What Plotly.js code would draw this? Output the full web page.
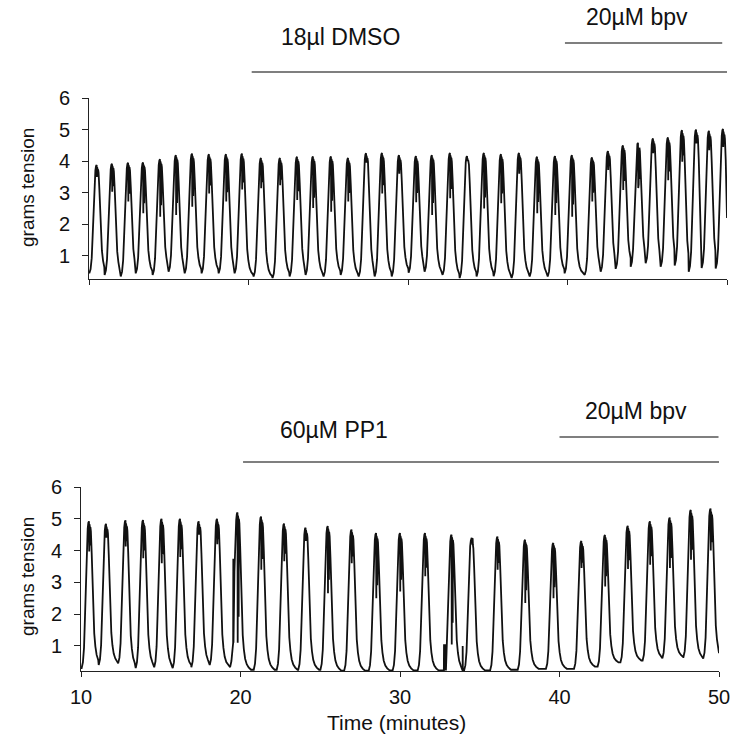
<!DOCTYPE html>
<html><head><meta charset="utf-8">
<script src="https://cdn.plot.ly/plotly-3.0.1.min.js"></script>
<style>html,body{margin:0;padding:0;background:#fff}#chart{width:741px;height:744px}</style>
</head><body><div id="chart"></div>
<script>
// ---------- top panel (18µl DMSO, then 20µM bpv) ----------
const topPeakTime = [10.48, 11.44, 12.45, 13.39, 14.45, 15.45, 16.46, 17.52, 18.59, 19.59,
  20.78, 21.97, 23.04, 24.04, 25.17, 26.24, 27.37, 28.37, 29.44, 30.50,
  31.50, 32.63, 33.70, 34.76, 35.83, 36.96, 38.09, 39.22, 40.28, 41.54,
  42.54, 43.48, 44.42, 45.36, 46.30, 47.18, 48.06, 48.87, 49.75];
const topPeakValue = [3.88, 3.92, 3.95, 3.96, 4.06, 4.19, 4.24, 4.22, 4.22, 4.24,
  4.10, 4.10, 4.14, 4.15, 4.15, 4.10, 4.25, 4.26, 4.19, 4.16,
  4.19, 4.26, 4.16, 4.26, 4.22, 4.26, 4.14, 4.16, 4.19, 4.12,
  4.32, 4.50, 4.58, 4.72, 4.75, 4.98, 5.00, 4.96, 5.02];
const topDipValue = [3.50, 3.03, 2.72, 2.35, 2.24, 2.30, 2.56, 2.98, 2.72, 3.10,
  3.14, 3.24, 2.77, 2.52, 2.40, 2.72, 3.95, 2.98, 3.60, 2.70,
  2.30, 2.83, 4.00, 2.50, 2.67, 3.60, 2.35, 2.30, 2.24, 2.72,
  3.72, 3.09, 3.15, 4.25, 3.40, 3.98, 4.56, 4.35, 4.45];
const topTroughValue = [0.45, 0.40, 0.35, 0.45, 0.40, 0.50, 0.45, 0.45, 0.45, 0.45,
  0.35, 0.30, 0.35, 0.40, 0.35, 0.40, 0.35, 0.35, 0.35, 0.47,
  0.50, 0.40, 0.30, 0.35, 0.36, 0.30, 0.35, 0.35, 0.45, 0.40,
  0.50, 0.59, 0.66, 0.77, 0.66, 0.70, 0.50, 0.62, 0.60, 0.60];
const topStart = [10.0, 0.50];
const topEnd = [50.0, 2.20];

// ---------- bottom panel (60µM PP1, then 20µM bpv) ----------
const botPeakTime = [10.50, 11.57, 12.79, 13.89, 15.05, 16.21, 17.38, 18.53, 19.81, 21.29,
  22.73, 24.08, 25.47, 26.96, 28.50, 30.00, 31.57, 33.23, 34.48, 36.11,
  37.84, 39.61, 41.37, 42.85, 44.28, 45.67, 46.91, 48.23, 49.47];
const botPeakValue = [4.92, 4.84, 4.95, 4.96, 5.00, 5.00, 4.92, 5.00, 5.20, 5.07,
  4.85, 4.72, 4.77, 4.66, 4.55, 4.55, 4.55, 4.50, 4.35, 4.44,
  4.34, 4.24, 4.30, 4.49, 4.78, 4.92, 5.04, 5.28, 5.32];
const botDipValue = [3.97, 4.40, 4.13, 3.76, 3.60, 3.80, 4.50, 4.20, 1.10, 3.40,
  3.66, 4.30, 2.66, 3.60, 2.50, 2.71, 3.19, 1.04, 4.40, 3.40,
  2.35, 2.50, 3.45, 2.87, 3.42, 3.55, 3.45, 3.71, 4.00];
const botTroughValue = [0.30, 0.40, 0.45, 0.30, 0.33, 0.30, 0.33, 0.40, 0.33, 0.25,
  0.25, 0.25, 0.25, 0.22, 0.22, 0.23, 0.23, 0.23, 0.23, 0.23,
  0.25, 0.28, 0.28, 0.35, 0.48, 0.54, 0.61, 0.65, 0.60, 0.60];
const botStart = [10.0, 0.30];
const botEnd = [50.0, 0.77];
// isolated brief spikes: time, height, base
const botSpikeTime = [19.55, 32.76, 32.87, 33.93];
const botSpikeValue = [3.74, 1.05, 1.05, 1.00];
const botSpikeBase = [1.10, 0.23, 0.23, 0.23];

// treatments: label, start, end (minutes)
const topTreatLabel = ["18\u00b5l DMSO", "20\u00b5M bpv"];
const topTreatStart = [20.2, 39.84];
const topTreatEnd = [50.05, 49.7];
const botTreatLabel = ["60\u00b5M PP1", "20\u00b5M bpv"];
const botTreatStart = [20.16, 40.0];
const botTreatEnd = [50.1, 49.97];

const tickVals = [10, 20, 30, 40, 50];
const tickText = ["10", "20", "30", "40", "50"];
const yTickVals = [1, 2, 3, 4, 5, 6];

// contraction waveform shape (time offset from peak, fraction of amplitude)
const riseShape = [[-0.46,0],[-0.38,0.04],[-0.31,0.14],[-0.25,0.35],[-0.19,0.62],[-0.13,0.84],[-0.08,0.95],[-0.04,0.99]];
const fallShape = [[0.12,0.93],[0.17,0.78],[0.22,0.55],[0.27,0.36],[0.33,0.22],[0.40,0.13],[0.48,0.07],[0.58,0.035],[0.70,0.015],[0.85,0.0]];

function buildTrace(peakT, peakV, dipV, troughV, start, end, spT, spV, spB) {
  const pts = [[start[0], start[1]]];
  for (let i = 0; i < peakT.length; i++) {
    const t0 = peakT[i], p = peakV[i], d = dipV[i], b = troughV[i], bn = troughV[i + 1];
    const last = pts[pts.length - 1][0];
    const nextRise = (i + 1 < peakT.length) ? peakT[i + 1] + riseShape[0][0] : end[0];
    riseShape.forEach(([dt, f]) => { const t = t0 + dt; if (t > last) pts.push([t, b + f * (p - b)]); });
    pts.push([t0, p]);
    // rapid oscillation on the plateau (dense dark band)
    pts.push([t0 + 0.015, d]);
    pts.push([t0 + 0.03, p - 0.02 * (p - bn)]);
    pts.push([t0 + 0.045, d + 0.08 * (p - d)]);
    pts.push([t0 + 0.06, p - 0.04 * (p - bn)]);
    pts.push([t0 + 0.075, d + 0.2 * (p - d)]);
    pts.push([t0 + 0.09, bn + 0.96 * (p - bn)]);
    fallShape.forEach(([dt, f]) => { const t = t0 + dt; if (t < nextRise && t < end[0]) pts.push([t, bn + f * (p - bn)]); });
  }
  pts.push([end[0], end[1]]);
  if (spT) {
    spT.forEach((t, k) => {
      pts.push([t - 0.01, spB[k]], [t, spV[k]], [t + 0.01, spB[k]]);
    });
    pts.sort((a, b) => a[0] - b[0]);
  }
  return { x: pts.map(q => q[0]), y: pts.map(q => q[1]) };
}

const topT = buildTrace(topPeakTime, topPeakValue, topDipValue, topTroughValue, topStart, topEnd);
const botT = buildTrace(botPeakTime, botPeakValue, botDipValue, botTroughValue, botStart, botEnd, botSpikeTime, botSpikeValue, botSpikeBase);

const font = "Liberation Sans, Arial, sans-serif";
const traces = [
  { x: topT.x, y: topT.y, xaxis: 'x', yaxis: 'y', mode: 'lines', line: { color: '#111', width: 1.8 }, hoverinfo: 'skip' },
  { x: botT.x, y: botT.y, xaxis: 'x2', yaxis: 'y2', mode: 'lines', line: { color: '#111', width: 1.8 }, hoverinfo: 'skip' }
];

const axisCommon = { showline: true, linecolor: '#222', linewidth: 1, showgrid: false, zeroline: false,
  ticks: 'outside', tickcolor: '#222', tickwidth: 1, tickfont: { family: font, size: 20, color: '#111' } };

const W = 741, H = 744;
const px = v => v / W, py = v => 1 - v / H;

const shapes = [];
const annotations = [];
topTreatLabel.forEach((lab, k) => {
  shapes.push({ type: 'line', xref: 'x', yref: 'paper', x0: topTreatStart[k], x1: topTreatEnd[k],
    y0: [py(72), py(43)][k], y1: [py(72), py(43)][k], line: { color: '#555', width: 1.5 } });
  annotations.push({ text: lab, xref: 'paper', yref: 'paper', x: [px(340), px(637)][k], y: [py(37), py(17)][k],
    showarrow: false, xanchor: 'center', yanchor: 'middle', font: { family: font, size: 23, color: '#111' } });
});
botTreatLabel.forEach((lab, k) => {
  shapes.push({ type: 'line', xref: 'x2', yref: 'paper', x0: botTreatStart[k], x1: botTreatEnd[k],
    y0: [py(462), py(437)][k], y1: [py(462), py(437)][k], line: { color: '#555', width: 1.5 } });
  annotations.push({ text: lab, xref: 'paper', yref: 'paper', x: [px(334), px(636)][k], y: [py(430), py(411)][k],
    showarrow: false, xanchor: 'center', yanchor: 'middle', font: { family: font, size: 23, color: '#111' } });
});
annotations.push({ text: 'grams tension', xref: 'paper', yref: 'paper', x: px(27), y: py(188), textangle: -90,
  showarrow: false, xanchor: 'center', yanchor: 'middle', font: { family: font, size: 19, color: '#111' } });
annotations.push({ text: 'grams tension', xref: 'paper', yref: 'paper', x: px(27), y: py(577), textangle: -90,
  showarrow: false, xanchor: 'center', yanchor: 'middle', font: { family: font, size: 19, color: '#111' } });
annotations.push({ text: 'Time (minutes)', xref: 'paper', yref: 'paper', x: px(396), y: py(722),
  showarrow: false, xanchor: 'center', yanchor: 'middle', font: { family: font, size: 21, color: '#111' } });

const layout = {
  width: W, height: H, margin: { l: 0, r: 0, t: 0, b: 0 }, showlegend: false,
  paper_bgcolor: '#fff', plot_bgcolor: '#fff',
  xaxis: Object.assign({}, axisCommon, { domain: [px(89), px(727)], range: [10, 50], anchor: 'y',
    tickvals: tickVals, ticktext: tickText, showticklabels: false, ticklen: 5 }),
  yaxis: Object.assign({}, axisCommon, { domain: [py(279), py(98)], range: [0.27, 6], anchor: 'x',
    tickvals: yTickVals, ticklen: 6, ticklabelstandoff: 8 }),
  xaxis2: Object.assign({}, axisCommon, { domain: [px(81), px(719)], range: [10, 50], anchor: 'y2',
    tickvals: tickVals, ticktext: tickText, ticklen: 5, ticklabelstandoff: 3 }),
  yaxis2: Object.assign({}, axisCommon, { domain: [py(671), py(487)], range: [0.21, 6], anchor: 'x2',
    tickvals: yTickVals, ticklen: 6, ticklabelstandoff: 8 }),
  shapes: shapes, annotations: annotations
};

Plotly.newPlot('chart', traces, layout, { displayModeBar: false, staticPlot: true });
</script></body></html>
